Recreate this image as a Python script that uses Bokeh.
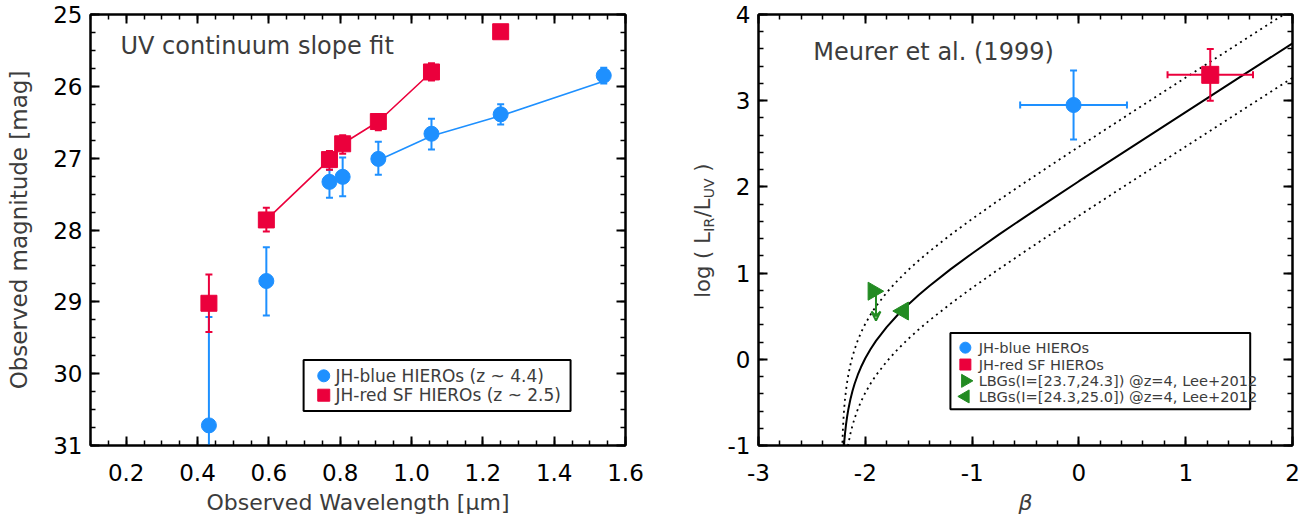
import numpy as np
from bokeh.plotting import figure
from bokeh.layouts import row
from bokeh.models import (Range1d, LinearAxis, SingleIntervalTicker, PrintfTickFormatter,
                          CustomJSTickFormatter, Label, Arrow, VeeHead)
from bokeh.embed import file_html
from bokeh.resources import INLINE

# ---------------- data: left panel (UV continuum slope fit) ----------------
blue_wl   = [0.432, 0.593, 0.770, 0.807, 0.907, 1.056, 1.250, 1.539]
blue_mag  = [30.72, 28.71, 27.33, 27.26, 27.01, 26.66, 26.39, 25.85]
blue_top  = [29.21, 28.24, 27.16, 26.99, 26.77, 26.45, 26.25, 25.74]
blue_bot  = [32.20, 29.19, 27.55, 27.53, 27.23, 26.88, 26.53, 25.96]
blue_fit_wl  = [0.907, 1.056, 1.250, 1.539]
blue_fit_mag = [27.03, 26.69, 26.41, 25.93]

red_wl  = [0.432, 0.593, 0.770, 0.807, 0.907, 1.056, 1.250]
red_mag = [29.02, 27.86, 27.02, 26.80, 26.49, 25.80, 25.24]
red_top = [28.62, 27.69, 26.90, 26.68, 26.39, 25.68, 25.24]
red_bot = [29.42, 28.02, 27.16, 26.94, 26.61, 25.92, 25.24]
red_fit_wl  = [0.593, 0.770, 0.807, 0.907, 1.056]
red_fit_mag = [27.86, 27.02, 26.80, 26.49, 25.80]

left_legend = ["JH-blue HIEROs (z ~ 4.4)", "JH-red SF HIEROs (z ~ 2.5)"]

# ---------------- data: right panel (IRX - beta) ----------------
blue_beta, blue_beta_err = [-0.05], [0.50]
blue_irx, blue_irx_err = [2.95], [0.40]
red_beta, red_beta_err = [1.23], [0.40]
red_irx, red_irx_err = [3.30], [0.30]
lbg1_beta, lbg1_irx, lbg1_limit = [-1.925], [0.79], [0.45]
lbg2_beta, lbg2_irx = [-1.645], [0.56]

meurer_beta = [-2.22, -2.215, -2.21, -2.205, -2.2, -2.195, -2.19, -2.18, -2.17, -2.16,
               -2.14, -2.12, -2.1, -2.07, -2.04, -2.0, -1.95, -1.9, -1.8, -1.7, -1.6,
               -1.5, -1.4, -1.2, -1.0, -0.75, -0.5, -0.25, 0.0, 0.5, 1.0, 1.5, 2.0]
meurer_irx = [-1.646, -1.385, -1.222, -1.103, -1.008, -0.930, -0.863, -0.753, -0.664, -0.589,
              -0.466, -0.367, -0.284, -0.179, -0.090, 0.012, 0.120, 0.214, 0.374, 0.511, 0.634,
              0.746, 0.851, 1.046, 1.228, 1.446, 1.656, 1.862, 2.066, 2.468, 2.868, 3.267, 3.665]
meurer_hi = [-1.246, -0.985, -0.822, -0.703, -0.608, -0.530, -0.463, -0.353, -0.264, -0.189,
             -0.066, 0.033, 0.116, 0.221, 0.310, 0.412, 0.520, 0.614, 0.774, 0.911, 1.034,
             1.146, 1.251, 1.446, 1.628, 1.846, 2.056, 2.262, 2.466, 2.868, 3.268, 3.667, 4.065]
meurer_lo = [-2.046, -1.785, -1.622, -1.503, -1.408, -1.330, -1.263, -1.153, -1.064, -0.989,
             -0.866, -0.767, -0.684, -0.579, -0.490, -0.388, -0.280, -0.186, -0.026, 0.111, 0.234,
             0.346, 0.451, 0.646, 0.828, 1.046, 1.256, 1.462, 1.666, 2.068, 2.468, 2.867, 3.265]

right_legend = ["JH-blue HIEROs", "JH-red SF HIEROs",
                "LBGs(I=[23.7,24.3]) @z=4, Lee+2012", "LBGs(I=[24.3,25.0]) @z=4, Lee+2012"]

# ---------------- styles ----------------
BLUE = "#1E90FF"
RED = "#EB003C"
GREEN = "#228B22"
TXT = "#3c3c3c"
FONT = "DejaVu Sans"
H = 525
TOP = 14
BOTTOM = 80


def style_axis(ax, labels=True):
    ax.axis_line_width = 2
    ax.axis_line_color = "black"
    ax.major_tick_in = 9
    ax.major_tick_out = 0
    ax.minor_tick_in = 5
    ax.minor_tick_out = 0
    ax.major_tick_line_width = 2
    ax.minor_tick_line_width = 1.5
    ax.major_tick_line_color = "black"
    ax.minor_tick_line_color = "black"
    if labels:
        ax.major_label_text_font = FONT
        ax.major_label_text_font_size = "23px"
        ax.major_label_text_color = "black"
        ax.axis_label_text_font = FONT
        ax.axis_label_text_font_style = "normal"
        ax.axis_label_text_color = TXT
    else:
        ax.formatter = CustomJSTickFormatter(code="return ''")
        ax.major_label_standoff = 0
        ax.major_label_text_font_size = "0px"


def base_fig(xr, yr, width, mbl, mbr):
    p = figure(x_range=xr, y_range=yr, width=width, height=H, output_backend="svg",
               toolbar_location=None, min_border_left=mbl, min_border_right=mbr,
               min_border_top=TOP, min_border_bottom=BOTTOM)
    p.xgrid.visible = False
    p.ygrid.visible = False
    p.outline_line_color = "black"
    p.outline_line_width = 2
    p.background_fill_color = "white"
    p.border_fill_color = "white"
    return p


def add_mirror(p, xt, yt):
    top = LinearAxis(ticker=xt)
    style_axis(top, labels=False)
    p.add_layout(top, "above")
    right = LinearAxis(ticker=yt)
    style_axis(right, labels=False)
    p.add_layout(right, "right")


# ======================= left panel =======================
p1 = base_fig(Range1d(0.1, 1.6), Range1d(31, 25), 655, 90, 30)
xt1 = SingleIntervalTicker(interval=0.2, num_minor_ticks=4)
yt1 = SingleIntervalTicker(interval=1, num_minor_ticks=4)
p1.xaxis.ticker = xt1
p1.yaxis.ticker = yt1
p1.xaxis.formatter = PrintfTickFormatter(format="%.1f")
p1.yaxis.formatter = PrintfTickFormatter(format="%d")
style_axis(p1.xaxis[0])
style_axis(p1.yaxis[0])
p1.xaxis.axis_label = "Observed Wavelength [\u03bcm]"
p1.yaxis.axis_label = "Observed magnitude [mag]"
p1.xaxis.axis_label_text_font_size = "22px"
p1.yaxis.axis_label_text_font_size = "23px"
p1.xaxis.major_label_standoff = 18
p1.xaxis.axis_label_standoff = 6
p1.yaxis.major_label_standoff = 8
p1.yaxis.axis_label_standoff = 18
add_mirror(p1, xt1, yt1)

# blue series
p1.segment(blue_wl, blue_top, blue_wl, blue_bot, line_color=BLUE, line_width=2)
p1.scatter(blue_wl, blue_top, marker="dash", size=7, line_color=BLUE, line_width=2)
p1.scatter(blue_wl, blue_bot, marker="dash", size=7, line_color=BLUE, line_width=2)
p1.line(blue_fit_wl, blue_fit_mag, line_color=BLUE, line_width=1.6)
p1.scatter(blue_wl, blue_mag, marker="circle", size=15, color=BLUE)
# red series
p1.segment(red_wl, red_top, red_wl, red_bot, line_color=RED, line_width=2)
p1.scatter(red_wl, red_top, marker="dash", size=7, line_color=RED, line_width=2)
p1.scatter(red_wl, red_bot, marker="dash", size=7, line_color=RED, line_width=2)
p1.line(red_fit_wl, red_fit_mag, line_color=RED, line_width=1.6)
p1.scatter(red_wl, red_mag, marker="square", size=16, color=RED)

p1.add_layout(Label(x=0.184, y=25.44, text="UV continuum slope fit", text_font=FONT,
                    text_font_size="24px", text_color=TXT, text_baseline="alphabetic"))

# legend (left)
L1 = dict(x0=0.6975, x1=1.446, y0=29.81, y1=30.52, mx=0.754, tx=0.787, rows=[30.03, 30.30])
p1.quad(left=L1["x0"], right=L1["x1"], top=L1["y0"], bottom=L1["y1"],
        fill_color="white", line_color="black", line_width=2)
p1.scatter([L1["mx"]], [L1["rows"][0]], marker="circle", size=12, color=BLUE)
p1.scatter([L1["mx"]], [L1["rows"][1]], marker="square", size=12, color=RED)
for lab, yy in zip(left_legend, L1["rows"]):
    p1.add_layout(Label(x=L1["tx"], y=yy, text=lab, text_font=FONT, text_font_size="17px",
                        text_color=TXT, text_baseline="middle", text_align="left"))

# ======================= y-title strip for right panel =======================
# the row aligns frames, so this strip's frame spans page y TOP..H-BOTTOM
TW = 65
pt = figure(x_range=Range1d(0, TW), y_range=Range1d(H - BOTTOM, TOP), width=TW, height=H,
            output_backend="svg", toolbar_location=None, min_border_left=0, min_border_right=0,
            min_border_top=TOP, min_border_bottom=BOTTOM,
            x_axis_type=None, y_axis_type=None)
pt.outline_line_color = None
pt.xgrid.visible = False
pt.ygrid.visible = False
pt.background_fill_color = "white"
pt.border_fill_color = "white"
# (text, font px, is_subscript, offset along the text direction in px)
title_parts = [("log (", 21, False, 0.0), ("L", 21, False, 54.0), ("IR", 14, True, 66.0),
               ("/L", 21, False, 80.5), ("UV", 14, True, 99.5), (")", 21, False, 126.0)]
TOTAL = 134.5
y0 = 230 + TOTAL / 2.0
for t, s, sub, off in title_parts:
    pt.add_layout(Label(x=53.0 if sub else 47.5, y=y0 - off, text=t, text_font=FONT,
                        text_font_size=f"{s}px", text_color=TXT, angle=np.pi / 2,
                        text_align="left", text_baseline="alphabetic"))

# ======================= right panel =======================
p2 = base_fig(Range1d(-3, 2), Range1d(-1, 4), 1314 - 655 - TW, 38, 22)
xt2 = SingleIntervalTicker(interval=1, num_minor_ticks=5)
yt2 = SingleIntervalTicker(interval=1, num_minor_ticks=5)
p2.xaxis.ticker = xt2
p2.yaxis.ticker = yt2
p2.xaxis.formatter = PrintfTickFormatter(format="%d")
p2.yaxis.formatter = PrintfTickFormatter(format="%d")
style_axis(p2.xaxis[0])
style_axis(p2.yaxis[0])
p2.xaxis.axis_label = "\u03b2"
p2.xaxis.axis_label_text_font_style = "italic"
p2.xaxis.axis_label_text_font_size = "22px"
p2.xaxis.major_label_standoff = 18
p2.xaxis.axis_label_standoff = 6
p2.yaxis.major_label_standoff = 8
add_mirror(p2, xt2, yt2)

# Meurer relation
p2.line(meurer_beta, meurer_irx, line_color="black", line_width=2)
p2.line(meurer_beta, meurer_hi, line_color="black", line_width=1.8, line_dash="2 4")
p2.line(meurer_beta, meurer_lo, line_color="black", line_width=1.8, line_dash="2 4")


def cross(p, bx, bxe, iy, iye, color, marker, size):
    bx, bxe, iy, iye = map(np.asarray, (bx, bxe, iy, iye))
    p.segment(bx - bxe, iy, bx + bxe, iy, line_color=color, line_width=2)
    p.segment(bx, iy - iye, bx, iy + iye, line_color=color, line_width=2)
    p.scatter(bx - bxe, iy, marker="dash", angle=np.pi / 2, size=7, line_color=color, line_width=2)
    p.scatter(bx + bxe, iy, marker="dash", angle=np.pi / 2, size=7, line_color=color, line_width=2)
    p.scatter(bx, iy - iye, marker="dash", size=7, line_color=color, line_width=2)
    p.scatter(bx, iy + iye, marker="dash", size=7, line_color=color, line_width=2)
    p.scatter(bx, iy, marker=marker, size=size, color=color)


cross(p2, blue_beta, blue_beta_err, blue_irx, blue_irx_err, BLUE, "circle", 15)
cross(p2, red_beta, red_beta_err, red_irx, red_irx_err, RED, "square", 17)

p2.add_layout(Arrow(end=VeeHead(size=9, line_color=GREEN, line_width=2, fill_color=None),
                    x_start=lbg1_beta[0] + 0.025, y_start=lbg1_irx[0],
                    x_end=lbg1_beta[0] + 0.025, y_end=lbg1_limit[0],
                    line_color=GREEN, line_width=2))
p2.scatter(lbg1_beta, lbg1_irx, marker="triangle", angle=-np.pi / 2, size=18, color=GREEN)
p2.scatter(lbg2_beta, lbg2_irx, marker="triangle", angle=np.pi / 2, size=18, color=GREEN)

p2.add_layout(Label(x=-2.487, y=3.56, text="Meurer et al. (1999)", text_font=FONT,
                    text_font_size="24px", text_color=TXT, text_baseline="alphabetic"))

# legend (right)
L2 = dict(x0=-1.203, x1=1.604, y0=0.305, y1=-0.58, mx=-1.063, tx=-0.938,
          rows=[0.135, -0.061, -0.250, -0.431])
p2.quad(left=L2["x0"], right=L2["x1"], top=L2["y0"], bottom=L2["y1"],
        fill_color="white", line_color="black", line_width=2)
p2.scatter([L2["mx"]], [L2["rows"][0]], marker="circle", size=11, color=BLUE)
p2.scatter([L2["mx"]], [L2["rows"][1]], marker="square", size=11, color=RED)
p2.scatter([L2["mx"]], [L2["rows"][2]], marker="triangle", angle=-np.pi / 2, size=13, color=GREEN)
p2.scatter([L2["mx"]], [L2["rows"][3]], marker="triangle", angle=np.pi / 2, size=13, color=GREEN)
for lab, yy in zip(right_legend, L2["rows"]):
    p2.add_layout(Label(x=L2["tx"], y=yy, text=lab, text_font=FONT, text_font_size="14.6px",
                        text_color=TXT, text_baseline="middle", text_align="left"))

layout = row(p1, pt, p2)
open("out.html", "w").write(file_html(layout, INLINE))
